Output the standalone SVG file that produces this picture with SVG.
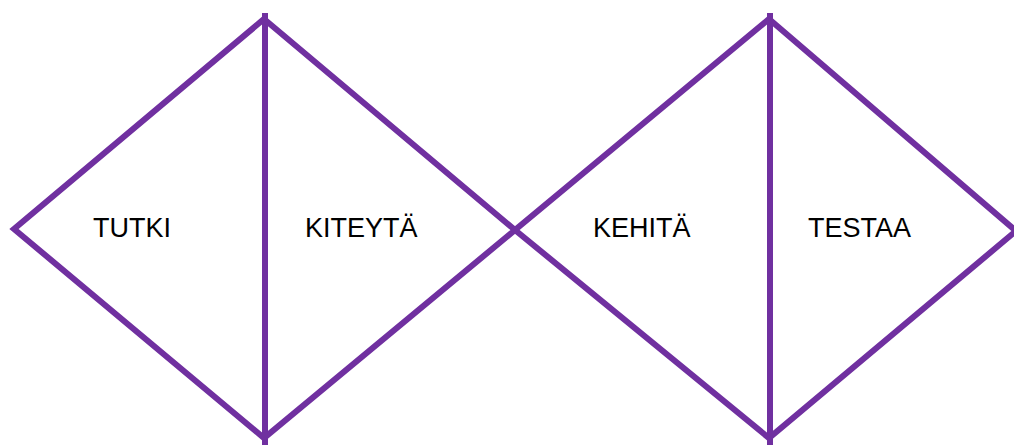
<svg xmlns="http://www.w3.org/2000/svg" width="1014" height="445" viewBox="0 0 1014 445">
<style>
.ln{stroke:#7030A0;stroke-width:6;fill:none;stroke-linejoin:miter}
.lb{font-family:"Liberation Sans",Arial,sans-serif;font-size:27px;fill:#000}
</style>
<rect width="1014" height="445" fill="#fff"/>
<g id="diamond-left">
<polygon class="ln" points="264,19 515,230 264,438 14,229"/>
<line class="ln" x1="265" y1="13" x2="265" y2="445"/>
</g>
<g id="diamond-right">
<polygon class="ln" points="769,19 1016,231 769,438 515,230"/>
<line class="ln" x1="770" y1="13" x2="770" y2="445"/>
</g>
<g id="tutki"><text class="lb" x="93" y="237">TUTKI</text></g>
<g id="kiteyta"><text class="lb" x="305" y="237">KITEYTÄ</text></g>
<g id="kehita"><text class="lb" x="593" y="237">KEHITÄ</text></g>
<g id="testaa"><text class="lb" x="808" y="237">TESTAA</text></g>
<g id="connectors"></g>
</svg>
